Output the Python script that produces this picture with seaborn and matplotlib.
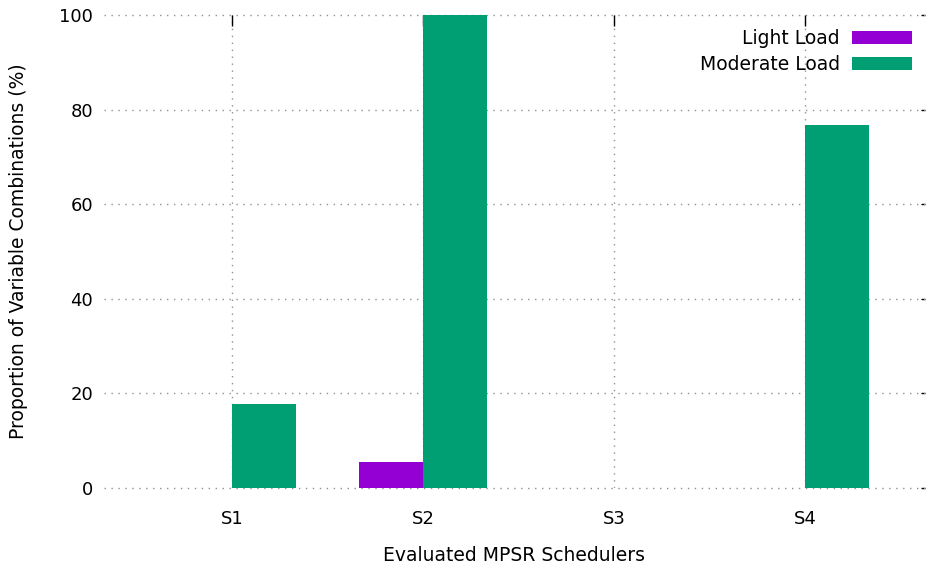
import matplotlib
matplotlib.use("Agg")
import matplotlib.pyplot as plt
import seaborn as sns
import pandas as pd

schedulers = ["S1", "S2", "S3", "S4"]
light_load = [0.0, 5.6, 0.0, 0.0]
moderate_load = [17.8, 100.0, 0.0, 76.7]
series_names = ["Light Load", "Moderate Load"]
colors = ["#9400D3", "#009E73"]
y_ticks = [0, 20, 40, 60, 80, 100]

df = pd.DataFrame({
    "Scheduler": schedulers * 2,
    "Load": [series_names[0]] * 4 + [series_names[1]] * 4,
    "Value": light_load + moderate_load,
})

sns.set_style("white")
plt.rcParams["font.family"] = ["DejaVu Sans"]
plt.rcParams["text.color"] = "black"
plt.rcParams["axes.labelcolor"] = "black"
plt.rcParams["xtick.color"] = "black"
plt.rcParams["ytick.color"] = "black"

fig = plt.figure(figsize=(9.28, 5.68), dpi=100)
ax = fig.add_axes([104 / 928, 1 - 488 / 568, (925 - 104) / 928, (488 - 15) / 568])

sns.barplot(data=df, x="Scheduler", y="Value", hue="Load", order=schedulers,
            hue_order=series_names, palette=colors, width=0.67, linewidth=0,
            saturation=1, ax=ax, zorder=3)

ax.set_xlim(-0.67, 3.628)
ax.set_ylim(0, 100)
ax.set_yticks(y_ticks)
for s in ax.spines.values():
    s.set_visible(False)
ax.grid(True, which="major", linestyle=(0, (1, 4)), color="#909090", linewidth=1, zorder=0)
ax.set_axisbelow(True)
for gl in ax.get_ygridlines():
    gl.set_clip_on(False)
ax.tick_params(axis="both", direction="in", length=8, width=1, color="black",
               top=True, right=False, labelsize=13)
ax.tick_params(axis="x", pad=16)
ax.tick_params(axis="y", pad=8)

sec = ax.secondary_yaxis("right")
sec.set_yticks(y_ticks)
sec.tick_params(direction="in", length=3, width=1, labelright=False)
for s in sec.spines.values():
    s.set_visible(False)

ax.set_xlabel("Evaluated MPSR Schedulers", fontsize=13.5, labelpad=13)
ax.set_ylabel("Proportion of Variable Combinations (%)", fontsize=13.5, labelpad=22)

handles, labels = ax.get_legend_handles_labels()
leg = ax.legend(handles, labels, loc="upper right",
                bbox_to_anchor=(912 / 928, 1 - 29 / 568), bbox_transform=fig.transFigure,
                borderaxespad=0, borderpad=0,
                frameon=False, markerfirst=False, fontsize=13.5, handlelength=3.2,
                handleheight=0.75, handletextpad=0.65, labelspacing=0.37)

fig.savefig("out.png", dpi=100)
